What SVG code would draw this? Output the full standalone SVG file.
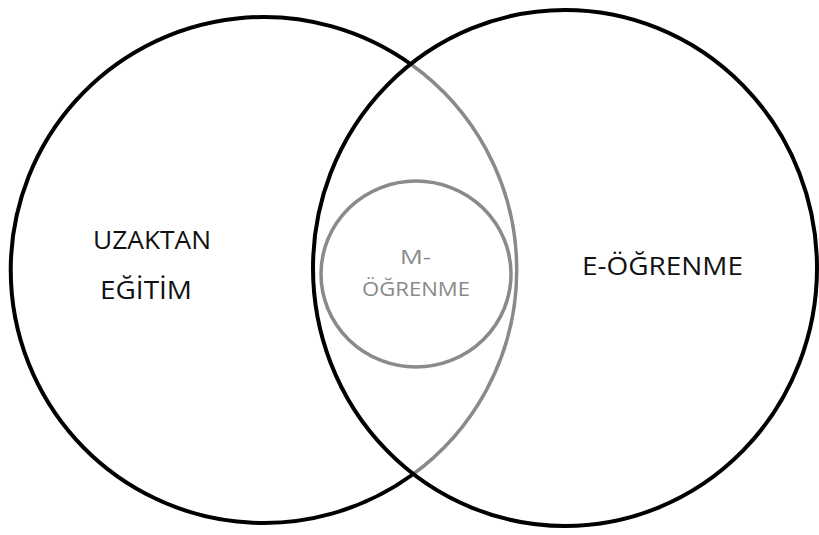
<svg xmlns="http://www.w3.org/2000/svg" width="819" height="535" viewBox="0 0 819 535">
<style>
.blk{fill:none;stroke:#000;stroke-width:4}
.gry{fill:none;stroke:#8a8a8a;stroke-width:3.5}
.t{font-family:"Open Sans","Noto Sans","Liberation Sans",sans-serif;font-size:26px;fill:#111}
.tg{font-family:"Open Sans","Noto Sans","Liberation Sans",sans-serif;font-size:20px;fill:#8a8a8a}
</style>
<rect width="819" height="535" fill="#fff"/>
<g id="uzaktan-egitim">
<path class="blk" d="M412,65 A253,253 0 1 0 412,475"/>
<path class="gry" d="M412,475 A253,253 0 0 0 412,65"/>
<text class="t" x="93" y="249" textLength="118" lengthAdjust="spacingAndGlyphs">UZAKTAN</text>
<text class="t" x="100" y="299" textLength="92" lengthAdjust="spacingAndGlyphs">EĞİTİM</text>
</g>
<g id="e-ogrenme">
<ellipse class="blk" cx="565" cy="268" rx="252" ry="258"/>
<text class="t" x="582" y="275" textLength="161" lengthAdjust="spacingAndGlyphs">E-ÖĞRENME</text>
</g>
<g id="m-ogrenme">
<ellipse class="gry" cx="416" cy="274" rx="95" ry="93" stroke-width="4.5"/>
<text class="tg" x="400" y="264" textLength="31" lengthAdjust="spacingAndGlyphs">M-</text>
<text class="tg" x="362" y="296" textLength="108" lengthAdjust="spacingAndGlyphs">ÖĞRENME</text>
</g>
<g id="connectors"/>
</svg>
